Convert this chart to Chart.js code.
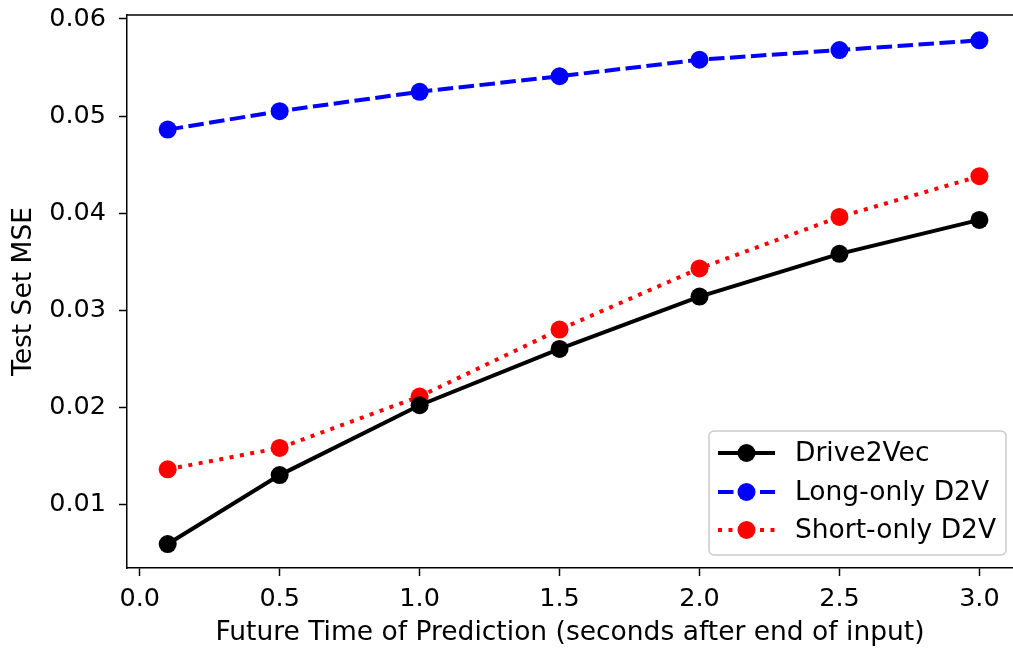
<!DOCTYPE html>
<html>
<head>
<meta charset="utf-8">
<script src="https://cdn.jsdelivr.net/npm/chart.js@4"></script>
<style>
  html, body { margin: 0; padding: 0; background: #fff; }
  #wrap { width: 1013px; height: 649px; }
</style>
</head>
<body>
<div id="wrap"><canvas id="myChart" width="1013" height="649"></canvas></div>
<script>
let times = [0.1, 0.5, 1.0, 1.5, 2.0, 2.5, 3.0];
let drive2vec = [0.0059, 0.0130, 0.0202, 0.0260, 0.0314, 0.0358, 0.0393];
let longOnly = [0.0486, 0.0505, 0.0525, 0.0541, 0.0558, 0.0568, 0.0578];
let shortOnly = [0.0136, 0.0158, 0.0211, 0.0280, 0.0343, 0.0396, 0.0438];
let xTicks = [0.0, 0.5, 1.0, 1.5, 2.0, 2.5, 3.0];
let yTicks = [0.01, 0.02, 0.03, 0.04, 0.05, 0.06];

const FONT = "'DejaVu Sans', sans-serif";
const TICK_SIZE = 25.5;
const LABEL_SIZE = 26.5;

function pts(vals) {
  return times.map((t, i) => ({ x: t, y: vals[i] }));
}

function series(label, vals, color, dash) {
  return {
    label: label,
    data: pts(vals),
    borderColor: color,
    backgroundColor: color,
    borderWidth: 4,
    borderDash: dash,
    pointRadius: 9,
    pointHoverRadius: 9,
    pointBackgroundColor: color,
    pointBorderColor: color,
    pointBorderWidth: 0,
    fill: false,
    tension: 0,
  };
}

// top spine + matplotlib style legend
const extras = {
  id: "extras",
  afterDraw(chart) {
    let c = chart.ctx;
    let a = chart.chartArea;
    c.save();
    c.strokeStyle = "#000";
    c.lineWidth = 1.5;
    c.beginPath();
    c.moveTo(a.left, a.top);
    c.lineTo(a.right, a.top);
    c.stroke();

    // legend box
    let bx = 709, by = 431, bw = 297, bh = 124, r = 5;
    c.globalAlpha = 0.8;
    c.fillStyle = "#fff";
    c.beginPath();
    c.roundRect(bx, by, bw, bh, r);
    c.fill();
    c.globalAlpha = 1;
    c.strokeStyle = "#cccccc";
    c.lineWidth = 1.5;
    c.stroke();

    let rows = [453, 492, 530];
    chart.data.datasets.forEach((ds, i) => {
      let y = rows[i];
      c.strokeStyle = ds.borderColor;
      c.lineWidth = 4;
      c.setLineDash(ds.borderDash || []);
      c.beginPath();
      c.moveTo(718, y);
      c.lineTo(775, y);
      c.stroke();
      c.setLineDash([]);
      c.fillStyle = ds.borderColor;
      c.beginPath();
      c.arc(746.5, y, 9, 0, Math.PI * 2);
      c.fill();
      c.fillStyle = "#000";
      c.font = LABEL_SIZE + "px " + FONT;
      c.textBaseline = "middle";
      c.textAlign = "left";
      c.fillText(ds.label, 795, y + 1);
    });
    c.restore();
  },
};

let ctx = document.getElementById("myChart").getContext("2d");

let myChart = new Chart(ctx, {
  type: "line",
  data: {
    datasets: [
      series("Drive2Vec", drive2vec, "#000000", []),
      series("Long-only D2V", longOnly, "#0000ff", [15.5, 5.5]),
      series("Short-only D2V", shortOnly, "#ff0000", [4, 6.5]),
    ],
  },
  options: {
    responsive: false,
    animation: false,
    events: [],
    layout: { autoPadding: false, padding: { top: 15, right: 0, left: 0, bottom: 0 } },
    plugins: {
      legend: { display: false },
      tooltip: { enabled: false },
    },
    scales: {
      x: {
        type: "linear",
        min: -0.0454,
        max: 3.12,
        afterBuildTicks: (s) => { s.ticks = xTicks.map((v) => ({ value: v })); },
        afterFit: (s) => {
          s.height = 81;
          s.paddingLeft = 0;
          s.paddingRight = 0;
        },
        grid: { display: true, drawOnChartArea: false, tickLength: 8, tickWidth: 1.5, tickColor: "#000" },
        border: { display: true, color: "#000", width: 1.5 },
        ticks: {
          color: "#000",
          font: { family: FONT, size: TICK_SIZE },
          padding: 8,
          maxRotation: 0,
          callback: (v) => Number(v).toFixed(1),
        },
        title: {
          display: true,
          text: "Future Time of Prediction (seconds after end of input)",
          color: "#000",
          font: { family: FONT, size: LABEL_SIZE },
          padding: { top: 0, bottom: 0 },
        },
      },
      y: {
        type: "linear",
        min: 0.00343,
        max: 0.06041,
        afterBuildTicks: (s) => { s.ticks = yTicks.map((v) => ({ value: v })); },
        afterFit: (s) => {
          s.width = 127;
          s.paddingTop = 0;
          s.paddingBottom = 0;
        },
        grid: { display: true, drawOnChartArea: false, tickLength: 8, tickWidth: 1.5, tickColor: "#000" },
        border: { display: true, color: "#000", width: 1.5 },
        ticks: {
          color: "#000",
          font: { family: FONT, size: TICK_SIZE },
          padding: 13,
          callback: (v) => Number(v).toFixed(2),
        },
        title: {
          display: true,
          text: "Test Set MSE",
          color: "#000",
          font: { family: FONT, size: LABEL_SIZE },
          padding: { top: 8, bottom: 0 },
        },
      },
    },
  },
  plugins: [extras],
});
</script>
</body>
</html>
